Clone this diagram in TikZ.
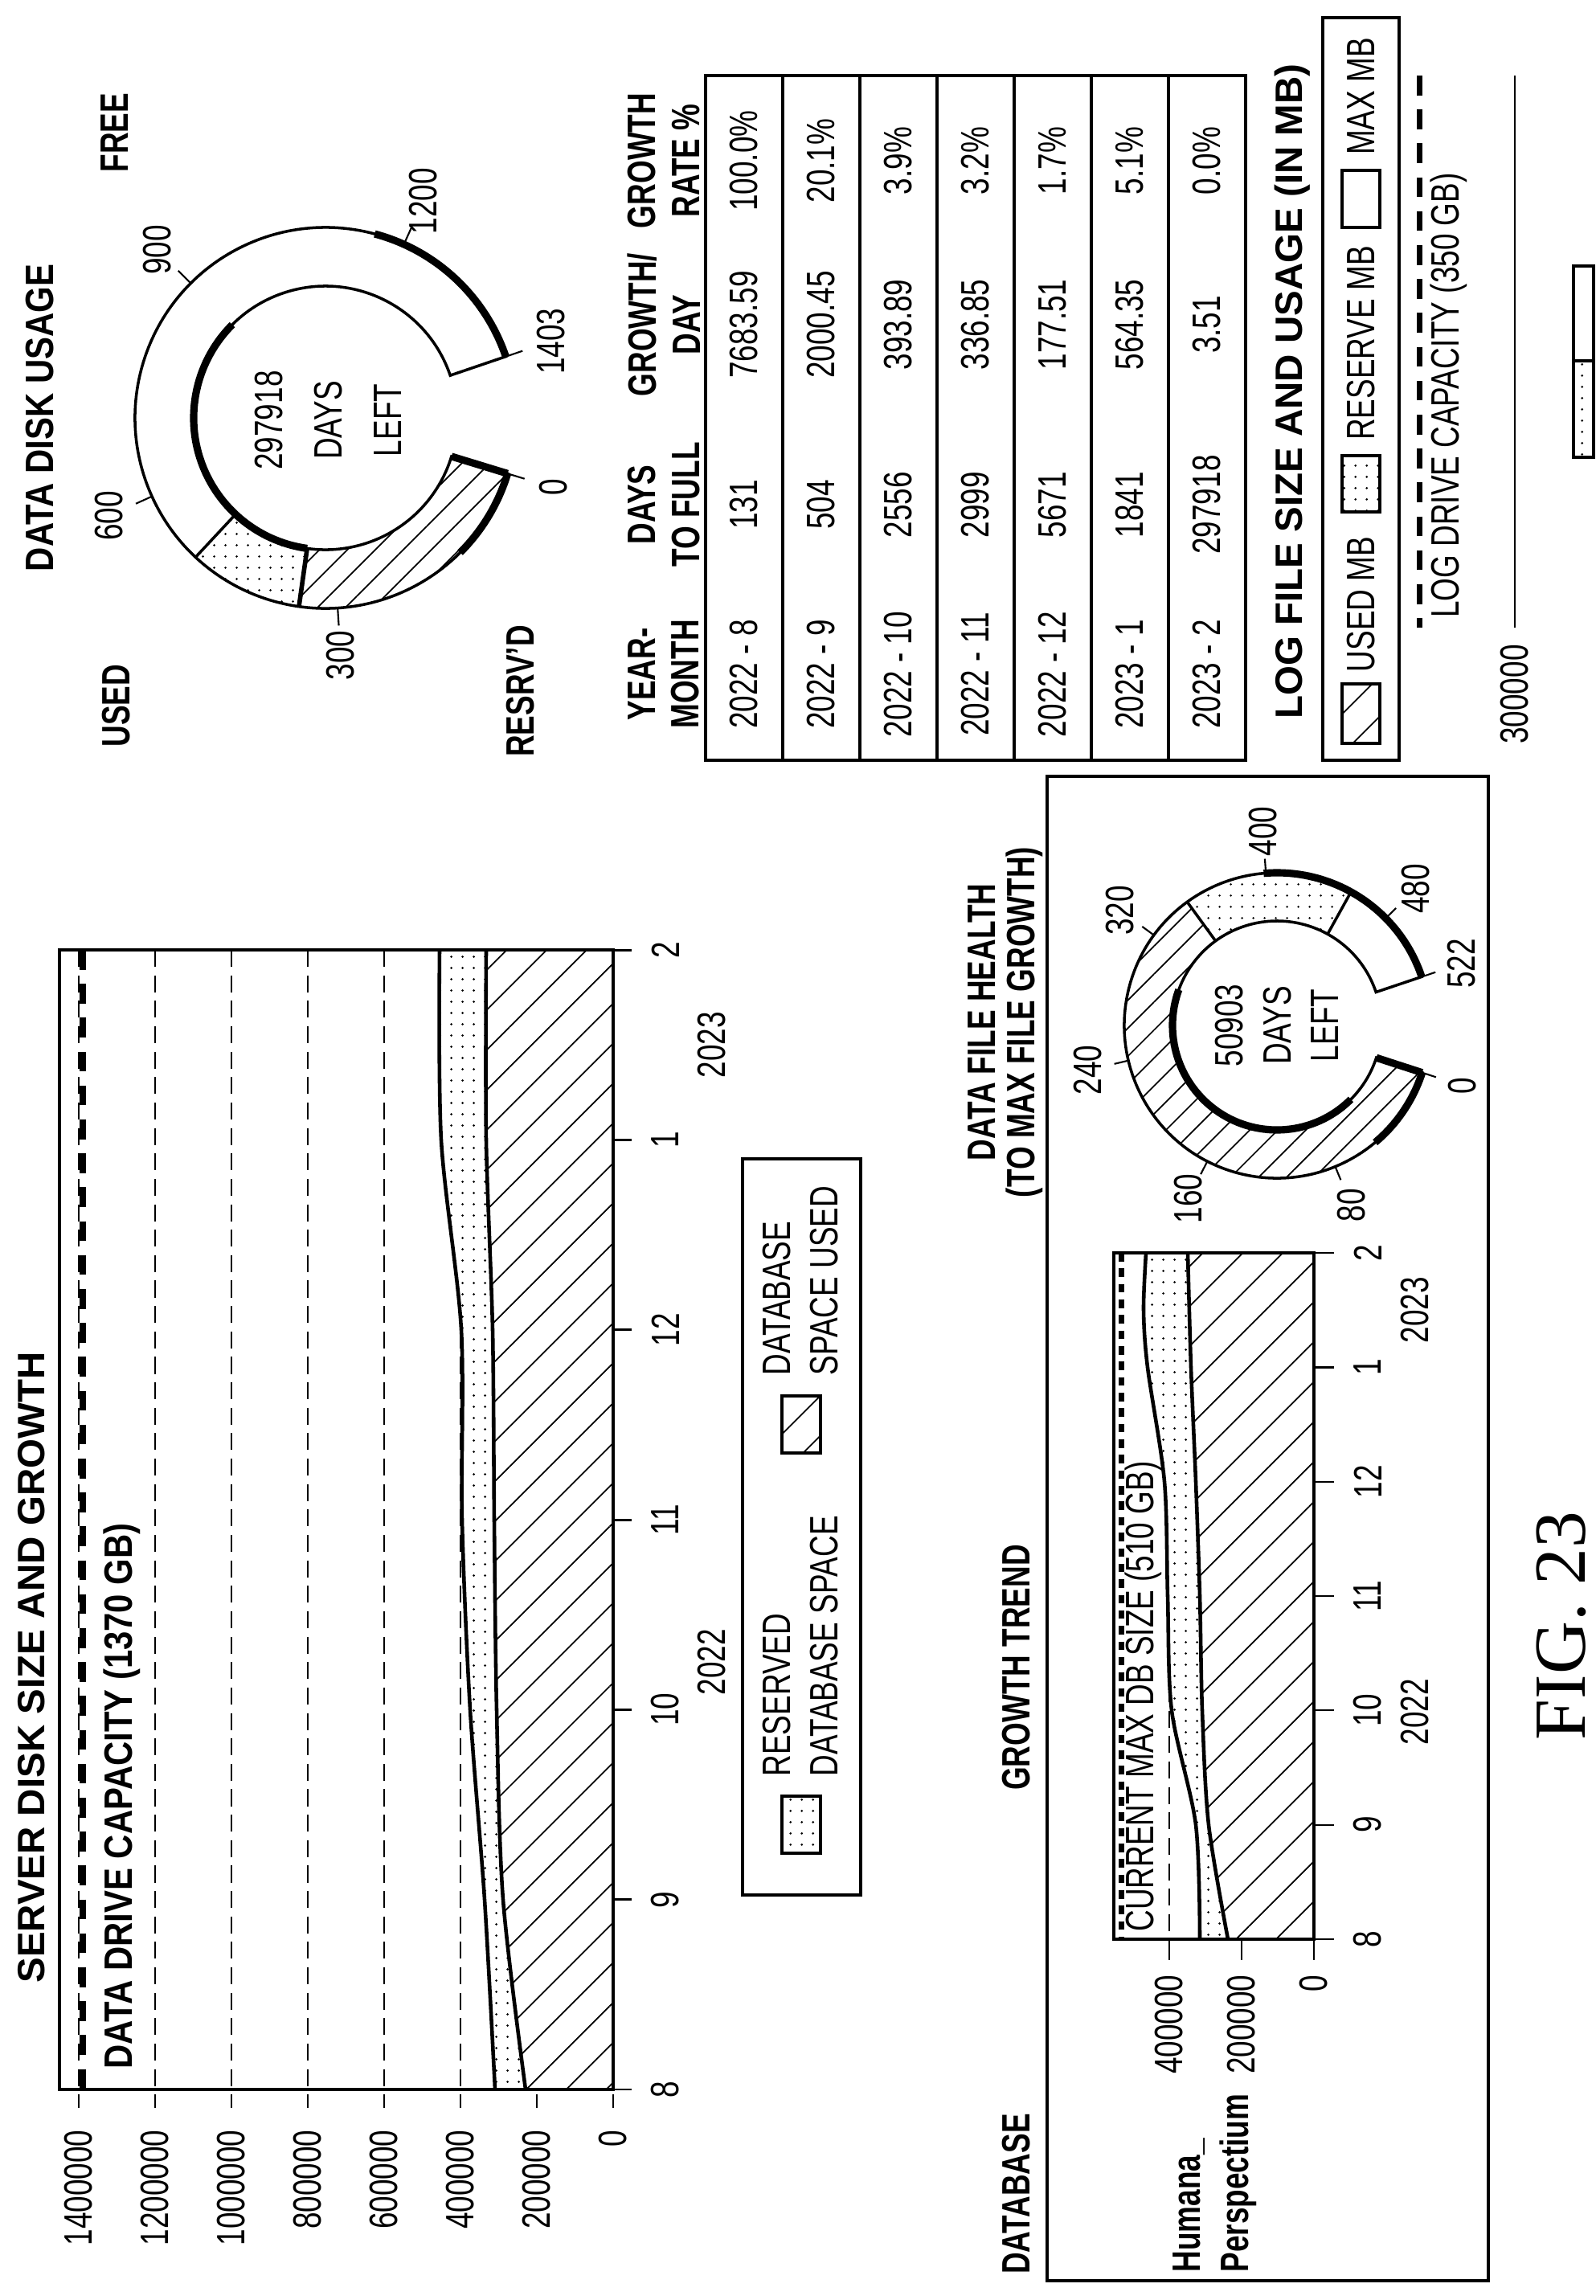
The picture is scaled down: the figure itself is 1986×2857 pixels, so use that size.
\documentclass[tikz,border=0pt]{standalone}
\usepackage{fontspec}
\setmainfont{Liberation Sans}[FakeStretch=0.75]
\newfontfamily\widebold{Liberation Sans}
\newfontfamily\midbold{Liberation Sans}[FakeStretch=0.85]
\newfontfamily\figserif{Liberation Serif}
\usetikzlibrary{patterns.meta}
\begin{document}
\begin{tikzpicture}[x=0.01cm,y=-0.01cm,
  txt/.style={rotate=90,inner sep=0pt,align=center,font=\fontsize{14}{14}\selectfont},
  bt/.style={rotate=90,inner sep=0pt,align=center,font=\fontsize{14}{14}\selectfont\bfseries},
  mbt/.style={rotate=90,inner sep=0pt,align=center,font=\midbold\fontsize{14}{14}\selectfont\bfseries},
  wbt/.style={rotate=90,inner sep=0pt,align=center,font=\widebold\fontsize{13.5}{14}\selectfont\bfseries},
  hatch/.style={preaction={fill=white},pattern={Lines[angle=45,distance=10pt,line width=0.5pt]}},
  dhatch/.style={preaction={fill=white},pattern={Lines[angle=45,distance=7pt,line width=0.5pt]}},
  dots/.style={preaction={fill=white},pattern={Dots[distance=4pt,radius=0.45pt]}},
  frame/.style={line width=1.3pt},
  grid/.style={line width=0.5pt,dash pattern=on 6pt off 3pt},
  capline/.style={line width=2.5pt,dash pattern=on 7pt off 5pt},
  curve/.style={line width=1.3pt}]
\path[use as bounding box] (0,0) rectangle (1986,2857);

% ============ SERVER DISK SIZE AND GROWTH ============
\node[wbt] (t1) at (39,2075) {SERVER DISK SIZE AND GROWTH};
\foreach \v/\lab in {0/0,200/200000,400/400000,600/600000,800/800000,1000/1000000,1200/1200000,1400/1400000}{
  \pgfmathsetmacro\xx{763-0.475*\v}
  \draw[grid] (\xx,1182) -- (\xx,2623);
  \node[txt,anchor=east] (v\v) at (\xx,2650) {\lab};
}
\fill[hatch] (763,2600) -- plot[smooth] coordinates {(654,2600) (626,2363.7) (618,2127.4) (615,1891.1) (613,1654.8) (605,1418.5) (605,1182.2)} -- (763,1182.2) -- cycle;
\fill[dots] plot[smooth] coordinates {(616,2600) (603,2363.7) (585,2127.4) (575,1891.1) (574,1654.8) (549,1418.5) (547,1182.2)} -- plot[smooth] coordinates {(605,1182.2) (605,1418.5) (613,1654.8) (615,1891.1) (618,2127.4) (626,2363.7) (654,2600)} -- cycle;
\draw[curve] plot[smooth] coordinates {(654,2600) (626,2363.7) (618,2127.4) (615,1891.1) (613,1654.8) (605,1418.5) (605,1182.2)};
\draw[curve] plot[smooth] coordinates {(616,2600) (603,2363.7) (585,2127.4) (575,1891.1) (574,1654.8) (549,1418.5) (547,1182.2)};
\draw[capline] (103,1182) -- (103,2600);
\draw[frame] (74,1182) rectangle (763,2600);
\node[mbt,anchor=west] (capl) at (152,2575) {DATA DRIVE CAPACITY (1370 GB)};
\foreach \m [count=\i from 0] in {8,9,10,11,12,1,2}{
  \pgfmathsetmacro\yy{2600-236.3*\i}
  \draw[line width=0.8pt] (763,\yy) -- (786,\yy);
  \node[txt] (m\i) at (828,\yy) {\m};
}
\node[txt] (y22) at (886,2068) {2022};
\node[txt] (y23) at (886,1300) {2023};
% legend
\draw[frame] (924,1442) rectangle (1071,2358);
\fill[dots] (973,2235) rectangle (1021,2306);
\draw[line width=1pt] (973,2235) rectangle (1021,2306);
\node[txt,anchor=west,align=left,font=\fontsize{14}{17}\selectfont] (lg1) at (996,2211) {RESERVED\\DATABASE SPACE};
\fill[hatch] (973,1737) rectangle (1021,1808);
\draw[line width=1pt] (973,1737) rectangle (1021,1808);
\node[txt,anchor=west,align=left,font=\fontsize{14}{17}\selectfont] (lg2) at (996,1712) {DATABASE\\SPACE USED};

% ============ GROWTH TREND box ============
\draw[frame] (1303,966) rectangle (1852,2838);
\node[bt] (dbh) at (1265,2730) {DATABASE};
\node[bt] (gth) at (1265,2075) {GROWTH TREND};
\node[bt,anchor=west] (hum) at (1480,2828) {Humana\_};
\node[bt,anchor=west] (per) at (1541,2828) {Perspectium};
\draw[grid] (1455,1559) -- (1455,2439);
\foreach \v/\lab in {0/0,200/200000,400/400000}{
  \pgfmathsetmacro\xx{1635-0.45*\v}
  \draw[line width=0.6pt] (\xx,2413) -- (\xx,2439);
  \node[txt,anchor=east] (sv\v) at (\xx,2457) {\lab};
}
\fill[hatch] (1635,2413) -- plot[smooth] coordinates {(1528,2413) (1504,2270.7) (1496,2128.4) (1493,1986.1) (1488,1843.8) (1482,1701.5) (1478,1559.2)} -- (1635,1559.2) -- cycle;
\fill[dots] plot[smooth] coordinates {(1493,2413) (1488,2270.7) (1458,2128.4) (1453,1986.1) (1449,1843.8) (1428,1701.5) (1423,1630) (1426,1559.2)} -- plot[smooth] coordinates {(1478,1559.2) (1482,1701.5) (1488,1843.8) (1493,1986.1) (1496,2128.4) (1504,2270.7) (1528,2413)} -- cycle;
\draw[curve] plot[smooth] coordinates {(1528,2413) (1504,2270.7) (1496,2128.4) (1493,1986.1) (1488,1843.8) (1482,1701.5) (1478,1559.2)};
\draw[curve] plot[smooth] coordinates {(1493,2413) (1488,2270.7) (1458,2128.4) (1453,1986.1) (1449,1843.8) (1428,1701.5) (1423,1630) (1426,1559.2)};
\draw[line width=2pt,dash pattern=on 3pt off 2.5pt] (1395,1559) -- (1395,2413);
\draw[frame] (1386,1559) rectangle (1635,2413);
\node[txt,anchor=west] (cmx) at (1423,2404) {CURRENT MAX DB SIZE (510 GB)};
\foreach \m [count=\i from 0] in {8,9,10,11,12,1,2}{
  \pgfmathsetmacro\yy{2413-142.3*\i}
  \draw[line width=0.6pt] (1635,\yy) -- (1660,\yy);
  \node[txt] (sm\i) at (1702,\yy) {\m};
}
\node[txt] (sy22) at (1761,2130) {2022};
\node[txt] (sy23) at (1761,1630) {2023};

% ============ DATA FILE HEALTH donut ============
\node[bt] (dfh) at (1251,1272) {DATA FILE HEALTH\\(TO MAX FILE GROWTH)};
\def\cx{1589}\def\cy{1276}\def\dRo{190}\def\dRi{130}
\fill[dhatch] ([shift={(\cx,\cy)}]18:\dRo) arc[start angle=18,end angle=234,radius=\dRo] -- ([shift={(\cx,\cy)}]234:\dRi) arc[start angle=234,end angle=18,radius=\dRi] -- cycle;
\fill[dots] ([shift={(\cx,\cy)}]234:\dRo) arc[start angle=234,end angle=299,radius=\dRo] -- ([shift={(\cx,\cy)}]299:\dRi) arc[start angle=299,end angle=234,radius=\dRi] -- cycle;
\draw[line width=1pt] ([shift={(\cx,\cy)}]18:\dRo) arc[start angle=18,end angle=341.4,radius=\dRo] -- ([shift={(\cx,\cy)}]341.4:\dRi) arc[start angle=341.4,end angle=18,radius=\dRi] -- cycle;
\draw[line width=1pt] ([shift={(\cx,\cy)}]234:\dRo) -- ([shift={(\cx,\cy)}]234:\dRi);
\draw[line width=1pt] ([shift={(\cx,\cy)}]299:\dRo) -- ([shift={(\cx,\cy)}]299:\dRi);
\draw[line width=2.6pt] ([shift={(\cx,\cy)}]265:\dRo) arc[start angle=265,end angle=341.4,radius=\dRo];
\draw[line width=2.6pt] ([shift={(\cx,\cy)}]18:\dRo) arc[start angle=18,end angle=50,radius=\dRo];
\draw[line width=2.6pt] ([shift={(\cx,\cy)}]45:\dRi) arc[start angle=45,end angle=200,radius=\dRi];
\draw[line width=2.6pt] ([shift={(\cx,\cy)}]18:\dRo) -- ([shift={(\cx,\cy)}]18:\dRi);
\foreach \v in {0,80,160,240,320,400,480,522}{
  \pgfmathsetmacro\aa{18+0.6196*\v}
  \draw[line width=0.6pt] ([shift={(\cx,\cy)}]\aa:\dRo) -- ([shift={(\cx,\cy)}]\aa:208);
  \node[txt] (fl\v) at ([shift={(\cx,\cy)}]\aa:242) {\v};
}
\node[txt,font=\fontsize{14}{17}\selectfont] (fdl) at (\cx,\cy) {50903\\DAYS\\LEFT};

% ============ DATA DISK USAGE donut ============
\node[mbt] (ddu) at (50,520) {DATA DISK USAGE};
\node[bt] (used) at (145,878) {USED};
\node[bt] (free) at (143,165) {FREE};
\node[bt] (resv) at (648,860) {RESRV'D};
\def\cx{405}\def\cy{520}\def\dRo{237}\def\dRi{164}
\fill[dhatch] ([shift={(\cx,\cy)}]17:\dRo) arc[start angle=17,end angle=98,radius=\dRo] -- ([shift={(\cx,\cy)}]98:\dRi) arc[start angle=98,end angle=17,radius=\dRi] -- cycle;
\fill[dots] ([shift={(\cx,\cy)}]98:\dRo) arc[start angle=98,end angle=133,radius=\dRo] -- ([shift={(\cx,\cy)}]133:\dRi) arc[start angle=133,end angle=98,radius=\dRi] -- cycle;
\draw[line width=1pt] ([shift={(\cx,\cy)}]17:\dRo) arc[start angle=17,end angle=341.2,radius=\dRo] -- ([shift={(\cx,\cy)}]341.2:\dRi) arc[start angle=341.2,end angle=17,radius=\dRi] -- cycle;
\draw[line width=1.6pt] ([shift={(\cx,\cy)}]98:\dRo) -- ([shift={(\cx,\cy)}]98:\dRi);
\draw[line width=1pt] ([shift={(\cx,\cy)}]133:\dRo) -- ([shift={(\cx,\cy)}]133:\dRi);
\draw[line width=2.6pt] ([shift={(\cx,\cy)}]285:\dRo) arc[start angle=285,end angle=341.2,radius=\dRo];
\draw[line width=2.6pt] ([shift={(\cx,\cy)}]17:\dRo) arc[start angle=17,end angle=45,radius=\dRo];
\draw[line width=2.6pt] ([shift={(\cx,\cy)}]98:\dRi) arc[start angle=98,end angle=225,radius=\dRi];
\draw[line width=2.6pt] ([shift={(\cx,\cy)}]17:\dRo) -- ([shift={(\cx,\cy)}]17:\dRi);
\foreach \v in {0,300,600,900,1200,1403}{
  \pgfmathsetmacro\aa{17+0.2311*\v}
  \draw[line width=0.6pt] ([shift={(\cx,\cy)}]\aa:\dRo) -- ([shift={(\cx,\cy)}]\aa:259);
  \node[txt] (ul\v) at ([shift={(\cx,\cy)}]\aa:296) {\v};
}
\node[txt,font=\fontsize{14}{21}\selectfont] (udl) at (408,523) {297918\\DAYS\\LEFT};

% ============ TABLE ============
\node[bt,font=\fontsize{14}{15.5}\selectfont\bfseries] (h1) at (826,839) {YEAR-\\MONTH};
\node[bt,font=\fontsize{14}{15.5}\selectfont\bfseries] (h2) at (826,628) {DAYS\\TO FULL};
\node[bt,font=\fontsize{14}{15.5}\selectfont\bfseries] (h3) at (826,404) {GROWTH/\\DAY};
\node[bt,font=\fontsize{14}{15.5}\selectfont\bfseries] (h4) at (826,200) {GROWTH\\RATE \%};
\draw[frame] (878,94) rectangle (1550,946);
\foreach \k in {1,...,6}{\draw[frame] (878+96*\k,94) -- (878+96*\k,946);}
\foreach \ym/\dtf/\gpd/\gr [count=\k from 0] in {2022 - 8/131/7683.59/100.0\%,2022 - 9/504/2000.45/20.1\%,2022 - 10/2556/393.89/3.9\%,2022 - 11/2999/336.85/3.2\%,2022 - 12/5671/177.51/1.7\%,2023 - 1/1841/564.35/5.1\%,2023 - 2/297918/3.51/0.0\%}{
  \pgfmathsetmacro\xx{926+96*\k}
  \node[txt] (ca\k) at (\xx,839) {\ym};
  \node[txt] (cb\k) at (\xx,628) {\dtf};
  \node[txt] (cc\k) at (\xx,404) {\gpd};
  \node[txt] (cd\k) at (\xx,200) {\gr};
}

% ============ LOG FILE ============
\node[wbt] (logt) at (1608,487) {LOG FILE SIZE AND USAGE (IN MB)};
\draw[frame] (1646,22) rectangle (1741,946);
\fill[hatch] (1670,851) rectangle (1717,925);
\draw[line width=1pt] (1670,851) rectangle (1717,925);
\node[txt] (lu) at (1694,752) {USED MB};
\fill[dots] (1670,567) rectangle (1717,637);
\draw[line width=1pt] (1670,567) rectangle (1717,637);
\node[txt] (lr) at (1694,427) {RESERVE MB};
\draw[line width=1pt] (1670,212) rectangle (1717,283);
\node[txt] (lm) at (1694,120) {MAX MB};
\draw[capline,line width=2pt] (1766,94) -- (1766,781);
\node[txt] (ldc) at (1803,492) {LOG DRIVE CAPACITY (350 GB)};
\draw[line width=0.6pt] (1885,94) -- (1885,781);
\node[txt] (l3) at (1885,864) {300000};
\fill[dots] (1958,449) rectangle (1983,569);
\draw[line width=1pt] (1958,331) rectangle (1983,569);
\draw[line width=1pt] (1958,449) -- (1983,449);

% ============ FIG ============
\node[rotate=90,inner sep=0pt,font=\figserif\fontsize{26}{26}\selectfont] (fig) at (1943,2023) {FIG. 23};
\end{tikzpicture}
\end{document}
